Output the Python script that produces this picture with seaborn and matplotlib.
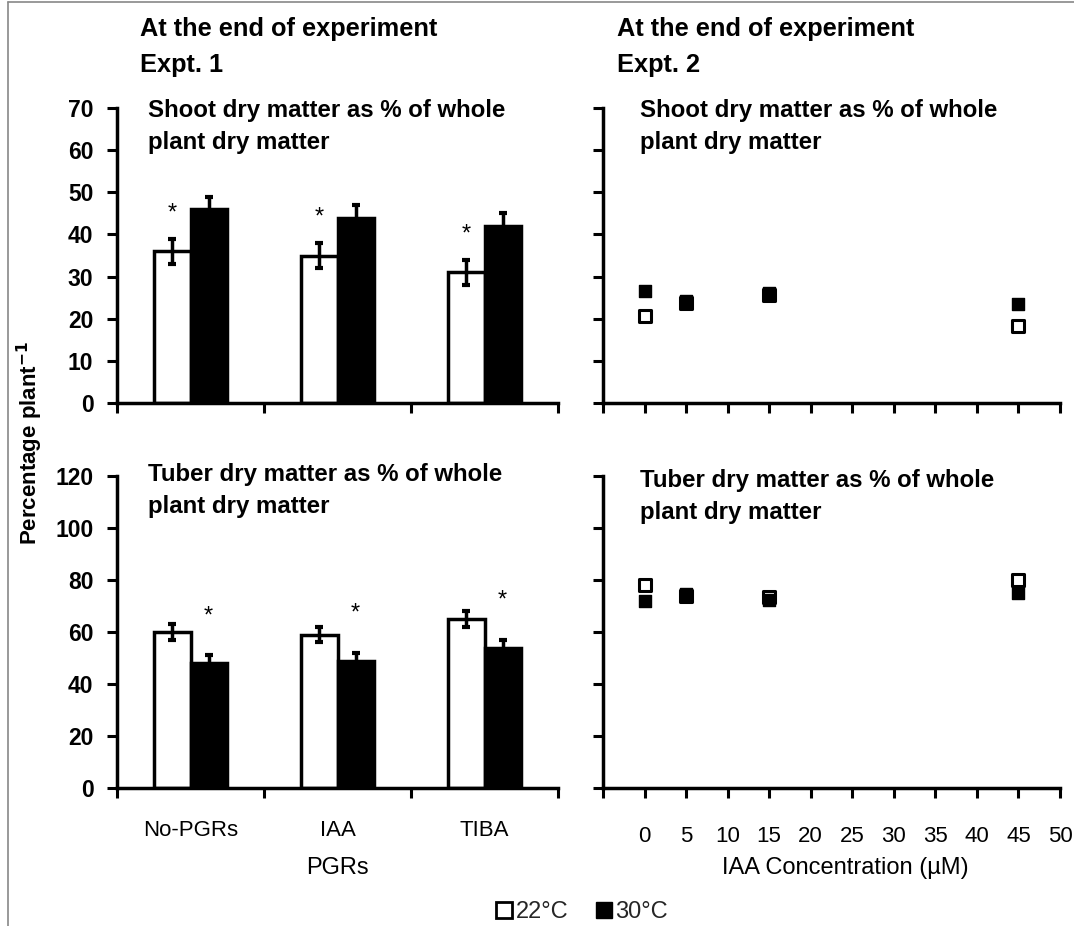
import matplotlib
matplotlib.use("Agg")
import matplotlib.pyplot as plt
from matplotlib.lines import Line2D
import seaborn as sns
import pandas as pd
import numpy as np

sns.set_theme(style="white")
plt.rcParams['font.family'] = ['Liberation Sans', 'DejaVu Sans']

# ---------------- data ----------------
pgrs = ["No-PGRs", "IAA", "TIBA"]
temps = ["22°C", "30°C"]

shoot_22 = [36, 35, 31]
shoot_30 = [46, 44, 42]
shoot_err_22 = [3, 3, 3]
shoot_err_30 = [3, 3, 3]

tuber_22 = [60, 59, 65]
tuber_30 = [48, 49, 54]
tuber_err_22 = [3, 3, 3]
tuber_err_30 = [3, 3, 3]

conc = [0, 5, 15, 45]
shoot2_22 = [20.7, 23.7, 25.6, 18.3]
shoot2_30 = [26.6, 24.3, 26.0, 23.4]
tuber2_22 = [78, 74, 73.5, 80]
tuber2_30 = [72, 74.5, 72.5, 75]

# ---------------- figure ----------------
W, H = 1074, 926
fig = plt.figure(figsize=(W / 100, H / 100), dpi=100)


def ax_px(x0, x1, y0, y1):
    return fig.add_axes([x0 / W, (H - y1) / H, (x1 - x0) / W, (y1 - y0) / H])


ax_tl = ax_px(117, 558, 108, 403)
ax_tr = ax_px(603, 1060, 108, 403)
ax_bl = ax_px(117, 558, 476, 788)
ax_br = ax_px(603, 1060, 476, 788)

pal = {"22°C": "white", "30°C": "black"}
LW = 2.5
XT_FS = 16
YT_FS = 16.5


def style_axes(ax):
    for s in ["top", "right"]:
        ax.spines[s].set_visible(False)
    for s in ["left", "bottom"]:
        ax.spines[s].set_color("black")
        ax.spines[s].set_linewidth(LW)
    ax.tick_params(axis="both", which="major", direction="out", length=7,
                   width=2.2, color="black", labelcolor="black",
                   left=True, bottom=True)
    ax.tick_params(axis="x", which="major", labelsize=XT_FS)
    ax.tick_params(axis="y", which="major", pad=10, labelsize=YT_FS)
    for lab in ax.get_yticklabels():
        lab.set_fontweight("bold")
    ax.grid(False)
    ax.set_xlabel("")
    ax.set_ylabel("")


def bar_panel(ax, v22, v30, e22, e30, ymax, ystep, star_on, star_off, show_labels):
    df = pd.DataFrame({
        "PGR": pgrs * 2,
        "Temp": [temps[0]] * 3 + [temps[1]] * 3,
        "val": list(v22) + list(v30),
    })
    sns.barplot(data=df, x="PGR", y="val", hue="Temp", order=pgrs,
                hue_order=temps, palette=pal, width=0.49, edgecolor="black",
                linewidth=LW, errorbar=None, legend=False, ax=ax, zorder=2)
    errs = [e22, e30]
    vals = [v22, v30]
    bar_conts = list(ax.containers)[:2]
    for ci, cont in enumerate(bar_conts):
        xs = [b.get_x() + b.get_width() / 2 for b in cont]
        ax.errorbar(xs, vals[ci], yerr=errs[ci], fmt="none", ecolor="black",
                    elinewidth=2.5, capsize=3, capthick=3, zorder=3)
        if ci == star_on:
            for x, v, e in zip(xs, vals[ci], errs[ci]):
                ax.text(x, v + e + star_off, "*", ha="center", va="center",
                        fontsize=17, color="black")
    ax.set_xlim(-0.5, 2.5)
    ax.set_ylim(0, ymax)
    ax.set_yticks(np.arange(0, ymax + 1, ystep))
    ax.set_xticks([-0.5, 0.5, 1.5, 2.5])
    ax.set_xticklabels([])
    style_axes(ax)
    if show_labels:
        ax.set_xticks([0, 1, 2], minor=True)
        ax.set_xticklabels(pgrs, minor=True)
        ax.tick_params(axis="x", which="minor", length=0, pad=23,
                       labelsize=XT_FS, labelcolor="black")


def scatter_panel(ax, v22, v30, ymax, ystep, show_labels):
    d22 = pd.DataFrame({"conc": conc, "val": v22})
    d30 = pd.DataFrame({"conc": conc, "val": v30})
    sns.scatterplot(data=d22, x="conc", y="val", marker="s", s=80,
                    facecolor="white", edgecolor="black", linewidth=2.2,
                    ax=ax, zorder=3)
    sns.scatterplot(data=d30, x="conc", y="val", marker="s", s=80,
                    color="black", edgecolor="black", linewidth=1,
                    ax=ax, zorder=3)
    ax.set_xlim(-5, 50)
    ax.set_ylim(0, ymax)
    ax.set_yticks(np.arange(0, ymax + 1, ystep))
    ax.set_yticklabels([])
    ax.set_xticks(np.arange(-5, 51, 5))
    if show_labels:
        ax.set_xticklabels([""] + [str(v) for v in range(0, 51, 5)])
    else:
        ax.set_xticklabels([])
    style_axes(ax)
    ax.tick_params(axis="x", which="major", pad=20)


bar_panel(ax_tl, shoot_22, shoot_30, shoot_err_22, shoot_err_30, 70, 10,
          star_on=0, star_off=6, show_labels=False)
bar_panel(ax_bl, tuber_22, tuber_30, tuber_err_22, tuber_err_30, 120, 20,
          star_on=1, star_off=15, show_labels=True)
scatter_panel(ax_tr, shoot2_22, shoot2_30, 70, 10, False)
scatter_panel(ax_br, tuber2_22, tuber2_30, 120, 20, True)


# ---------------- texts ----------------
def ftext(x, y, s, **kw):
    fig.text(x / W, (H - y) / H, s, **kw)


head = dict(fontsize=18.3, fontweight="bold", color="black", va="center", ha="left")
sub = dict(fontsize=17.3, fontweight="bold", color="black", va="center", ha="left")
ftext(140, 29, "At the end of experiment", **head)
ftext(140, 65, "Expt. 1", **head)
ftext(617, 29, "At the end of experiment", **head)
ftext(617, 65, "Expt. 2", **head)

ftext(148, 111, "Shoot dry matter as % of whole", **sub)
ftext(148, 142, "plant dry matter", **sub)
ftext(640, 111, "Shoot dry matter as % of whole", **sub)
ftext(640, 142, "plant dry matter", **sub)
ftext(148, 475, "Tuber dry matter as % of whole", **sub)
ftext(148, 507, "plant dry matter", **sub)
ftext(640, 481, "Tuber dry matter as % of whole", **sub)
ftext(640, 513, "plant dry matter", **sub)

ftext(30, 443, "Percentage plant$^{\\mathbf{-1}}$", fontsize=16, fontweight="bold",
      rotation=90, ha="center", va="center", color="black")

ftext(337, 868, "PGRs", fontsize=17, ha="center", va="center", color="black")
ftext(845, 868, "IAA Concentration (µM)", fontsize=17, ha="center", va="center",
      color="black")

# legend
handles = [
    Line2D([], [], linestyle="none", marker="s", markersize=11,
           markerfacecolor="white", markeredgecolor="black", markeredgewidth=2),
    Line2D([], [], linestyle="none", marker="s", markersize=11,
           markerfacecolor="black", markeredgecolor="black"),
]
fig.legend(handles, temps, loc="center", bbox_to_anchor=(580 / W, (H - 912) / H),
           ncol=2, frameon=False, fontsize=17, handletextpad=0.0,
           columnspacing=1.0, handlelength=1.0)

# border lines
fig.add_artist(Line2D([8 / W, 8 / W], [0, 1 - 2 / H], color="#888888", lw=1.2,
                      transform=fig.transFigure))
fig.add_artist(Line2D([8 / W, 1], [1 - 2 / H, 1 - 2 / H], color="#888888", lw=1.2,
                      transform=fig.transFigure))

fig.savefig("out.png", dpi=100, facecolor="white")
